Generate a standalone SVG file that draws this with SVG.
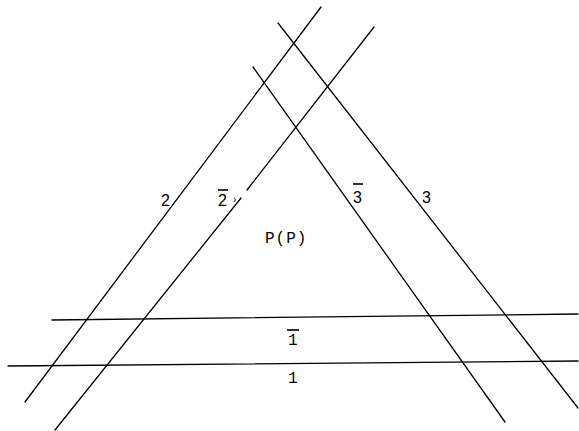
<svg xmlns="http://www.w3.org/2000/svg" width="579" height="431" viewBox="0 0 579 431">
<style>
.ln{stroke:#000;stroke-width:1.3;fill:none;stroke-linecap:round}
.bar{stroke:#000;stroke-width:1.6}
.lbl{font-family:"Liberation Sans",Arial,sans-serif;font-size:16px;fill:#000}
.mono{font-family:"Liberation Mono","Courier New",monospace;font-size:16px;fill:#000}
</style>
<rect width="579" height="431" fill="#fff"/>
<g id="connectors">
<line id="line-1bar" class="ln" x1="52" y1="320" x2="578" y2="314"/>
<line id="line-1" class="ln" x1="8" y1="366" x2="578" y2="361"/>
<line id="line-2" class="ln" x1="321" y1="7" x2="25" y2="402"/>
<polyline id="line-2bar" class="ln" points="374,27 247,190"/>
<polyline id="line-2bar-b" class="ln" points="241,198 55,430"/>
<line id="line-3bar" class="ln" x1="253" y1="67" x2="505" y2="422"/>
<line id="line-3" class="ln" x1="278" y1="23" x2="578" y2="408"/>
</g>
<g id="label-2"><text class="lbl" x="161" y="206">2</text></g>
<g id="label-2bar"><line class="bar" x1="218" y1="190" x2="228" y2="190"/><text class="lbl" x="218" y="206">2</text><text class="lbl" x="233" y="203" style="font-size:10px">›</text></g>
<g id="label-3bar"><line class="bar" x1="353" y1="184" x2="363" y2="184"/><text class="lbl" x="353" y="203">3</text></g>
<g id="label-3"><text class="lbl" x="422" y="203">3</text></g>
<g id="label-PP"><text class="mono" x="265" y="243" letter-spacing="1">P(P)</text></g>
<g id="label-1bar"><line class="bar" x1="287" y1="330" x2="299" y2="330"/><text class="mono" x="288" y="345">1</text></g>
<g id="label-1"><text class="mono" x="288" y="383">1</text></g>
</svg>
